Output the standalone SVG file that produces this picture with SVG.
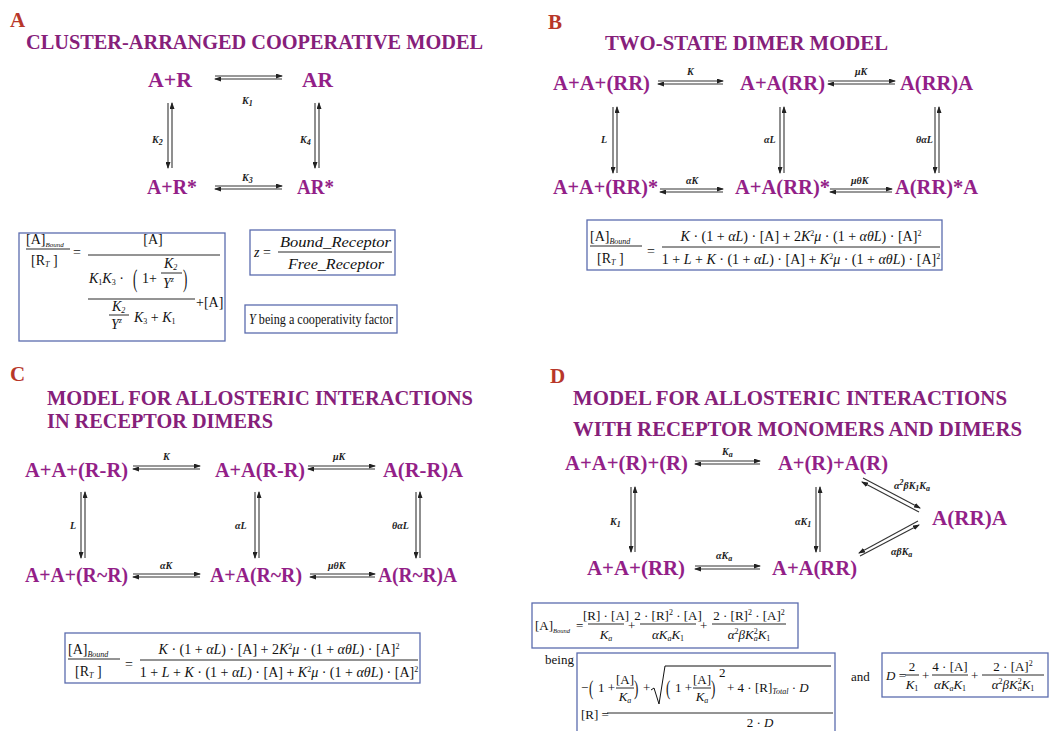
<svg xmlns="http://www.w3.org/2000/svg" width="1051" height="731" viewBox="0 0 1051 731">
<style>
.pl{font-family:"Liberation Serif",serif;font-weight:bold;font-size:21px;fill:#b8372a}
.tt{font-family:"Liberation Serif",serif;font-weight:bold;font-size:20px;fill:#86207a}
.sp{font-family:"Liberation Serif",serif;font-weight:bold;font-size:20px;fill:#931f88}
.k{font-family:"Liberation Serif",serif;font-weight:bold;font-style:italic;font-size:10px;fill:#222}
.eq{font-family:"Liberation Serif",serif;font-size:13px;fill:#111}
.e14{font-size:14px}
.i{font-style:italic}
.s{font-size:8px}
.box{fill:#fff;stroke:#5b6cae;stroke-width:1.3}
.fl{stroke:#111;stroke-width:0.9}
.rad{fill:none;stroke:#111;stroke-width:1}
.cn line{stroke:#333;stroke-width:1.1;marker-end:url(#ah)}
</style>
<defs>
<marker id="ah" markerUnits="userSpaceOnUse" markerWidth="7" markerHeight="5" refX="6" refY="2.5" orient="auto">
<path d="M0,0 L7,2.5 L0,5 z" fill="#222"/>
</marker>
<g id="bindEq">
<rect class="box" x="0" y="0" width="355" height="50"/>
<text class="eq e14" x="3" y="21">[A]<tspan class="s i" dy="3">Bound</tspan></text>
<line class="fl" x1="3" y1="26" x2="55" y2="26"/>
<text class="eq e14" x="10" y="43">[R<tspan class="s i" dy="2">T</tspan><tspan dy="-2"> ]</tspan></text>
<text class="eq e14" x="60" y="36">=</text>
<line class="fl" x1="75" y1="27" x2="353" y2="27"/>
<text class="eq e14" x="214" y="21" text-anchor="middle"><tspan class="i">K</tspan> · (1 + <tspan class="i">αL</tspan>) · [A] + 2<tspan class="i">K</tspan><tspan class="s" dy="-5">2</tspan><tspan class="i" dy="5">μ</tspan> · (1 + <tspan class="i">αθL</tspan>) · [A]<tspan class="s" dy="-5">2</tspan></text>
<text class="eq e14" x="214" y="44" text-anchor="middle">1 + <tspan class="i">L</tspan> + <tspan class="i">K</tspan> · (1 + <tspan class="i">αL</tspan>) · [A] + <tspan class="i">K</tspan><tspan class="s" dy="-5">2</tspan><tspan class="i" dy="5">μ</tspan> · (1 + <tspan class="i">αθL</tspan>) · [A]<tspan class="s" dy="-5">2</tspan></text>
</g>
</defs>
<rect width="1051" height="731" fill="#fff"/>

<!-- Panel A -->
<g id="panelA">
<text class="pl" x="10" y="27">A</text>
<text class="tt" x="26" y="49" textLength="457" lengthAdjust="spacingAndGlyphs">CLUSTER-ARRANGED COOPERATIVE MODEL</text>
</g>
<g id="A_AR1"><text class="sp" x="148" y="87" textLength="44" lengthAdjust="spacingAndGlyphs">A+R</text></g>
<g id="A_AR"><text class="sp" x="302" y="87" textLength="31" lengthAdjust="spacingAndGlyphs">AR</text></g>
<g id="A_ARs1"><text class="sp" x="147" y="194" textLength="50" lengthAdjust="spacingAndGlyphs">A+R*</text></g>
<g id="A_ARs"><text class="sp" x="297" y="194" textLength="37" lengthAdjust="spacingAndGlyphs">AR*</text></g>
<g id="A_connectors" class="cn">
<line x1="215" y1="76" x2="282" y2="76"/><line x1="282" y1="79" x2="215" y2="79"/>
<line x1="215" y1="186" x2="282" y2="186"/><line x1="282" y1="189" x2="215" y2="189"/>
<line x1="168" y1="103" x2="168" y2="168"/><line x1="172" y1="168" x2="172" y2="103"/>
<line x1="315" y1="103" x2="315" y2="168"/><line x1="319" y1="168" x2="319" y2="103"/>
<text class="k" x="242" y="104">K<tspan class="s" dy="2">1</tspan></text>
<text class="k" x="242" y="181">K<tspan class="s" dy="2">3</tspan></text>
<text class="k" x="152" y="143">K<tspan class="s" dy="2">2</tspan></text>
<text class="k" x="300" y="143">K<tspan class="s" dy="2">4</tspan></text>
</g>
<g id="A_eq">
<rect class="box" x="19" y="233" width="206" height="108"/>
<text class="eq e14" x="26" y="244">[A]<tspan class="i" font-size="7" dy="3">Bound</tspan></text>
<line class="fl" x1="26" y1="249" x2="70" y2="249"/>
<text class="eq e14" x="31" y="265">[R<tspan class="s i" dy="2">T</tspan><tspan dy="-2"> ]</tspan></text>
<text class="eq e14" x="73" y="257">=</text>
<text class="eq e14" x="153" y="244" text-anchor="middle">[A]</text>
<line class="fl" x1="88" y1="255" x2="220" y2="255"/>
<text class="eq e14" x="89" y="283"><tspan class="i">K</tspan><tspan class="s" dy="2">1</tspan><tspan class="i" dy="-2">K</tspan><tspan class="s" dy="2">3</tspan><tspan dy="-2"> ·</tspan></text>
<text class="eq" transform="translate(133,287) scale(1,1.9)" font-size="22">(</text>
<text class="eq e14" x="142" y="283">1+</text>
<text class="eq e14 i" x="164" y="268">K<tspan class="s" dy="2">2</tspan></text>
<line class="fl" x1="161" y1="273" x2="182" y2="273"/>
<text class="eq e14 i" x="163" y="288">Y<tspan class="s" dy="-6">z</tspan></text>
<text class="eq" transform="translate(183,287) scale(1,1.9)" font-size="22">)</text>
<line class="fl" x1="88" y1="299" x2="195" y2="299"/>
<text class="eq e14" x="196" y="307">+[A]</text>
<text class="eq e14 i" x="112" y="311">K<tspan class="s" dy="2">2</tspan></text>
<line class="fl" x1="109" y1="315" x2="129" y2="315"/>
<text class="eq e14 i" x="111" y="329">Y<tspan class="s" dy="-6">z</tspan></text>
<text class="eq e14" x="134" y="322"><tspan class="i">K</tspan><tspan class="s" dy="2">3</tspan><tspan dy="-2"> + </tspan><tspan class="i">K</tspan><tspan class="s" dy="2">1</tspan></text>
</g>
<g id="A_z">
<rect class="box" x="250" y="230" width="145" height="45"/>
<text class="eq e14" x="254" y="257"><tspan class="i">z</tspan> =</text>
<line class="fl" x1="278" y1="252" x2="392" y2="252"/>
<text class="eq e14 i" x="280" y="247" textLength="111" lengthAdjust="spacingAndGlyphs">Bound_Receptor</text>
<text class="eq e14 i" x="288" y="269" textLength="96" lengthAdjust="spacingAndGlyphs">Free_Receptor</text>
</g>
<g id="A_Y">
<rect class="box" x="245" y="305" width="152" height="28"/>
<text class="eq e14" x="249" y="324" textLength="144" lengthAdjust="spacingAndGlyphs"><tspan class="i">Y</tspan> being a cooperativity factor</text>
</g>

<!-- Panel B -->
<g id="panelB">
<text class="pl" x="548" y="29" fill="#c0282a">B</text>
<text class="tt" x="605" y="50" textLength="283" lengthAdjust="spacingAndGlyphs">TWO-STATE DIMER MODEL</text>
</g>
<g id="B_n1"><text class="sp" x="553" y="90" textLength="97" lengthAdjust="spacingAndGlyphs">A+A+(RR)</text></g>
<g id="B_n2"><text class="sp" x="740" y="90" textLength="85" lengthAdjust="spacingAndGlyphs">A+A(RR)</text></g>
<g id="B_n3"><text class="sp" x="900" y="90" textLength="73" lengthAdjust="spacingAndGlyphs">A(RR)A</text></g>
<g id="B_n4"><text class="sp" x="553" y="194" textLength="105" lengthAdjust="spacingAndGlyphs">A+A+(RR)*</text></g>
<g id="B_n5"><text class="sp" x="735" y="194" textLength="95" lengthAdjust="spacingAndGlyphs">A+A(RR)*</text></g>
<g id="B_n6"><text class="sp" x="895" y="194" textLength="83" lengthAdjust="spacingAndGlyphs">A(RR)*A</text></g>
<g id="B_connectors" class="cn">
<line x1="658" y1="81" x2="723" y2="81"/><line x1="723" y1="84" x2="658" y2="84"/>
<line x1="828" y1="81" x2="895" y2="81"/><line x1="895" y1="84" x2="828" y2="84"/>
<line x1="660" y1="189" x2="723" y2="189"/><line x1="723" y1="192" x2="660" y2="192"/>
<line x1="830" y1="189" x2="892" y2="189"/><line x1="892" y1="192" x2="830" y2="192"/>
<line x1="613" y1="107" x2="613" y2="173"/><line x1="617" y1="173" x2="617" y2="107"/>
<line x1="780" y1="107" x2="780" y2="173"/><line x1="784" y1="173" x2="784" y2="107"/>
<line x1="935" y1="107" x2="935" y2="173"/><line x1="939" y1="173" x2="939" y2="107"/>
<text class="k" x="687" y="75">K</text>
<text class="k" x="855" y="75">μK</text>
<text class="k" x="686" y="184">αK</text>
<text class="k" x="851" y="184">μθK</text>
<text class="k" x="601" y="143">L</text>
<text class="k" x="764" y="143">αL</text>
<text class="k" x="916" y="143">θαL</text>
</g>
<g id="B_eq"><use href="#bindEq" x="587" y="220"/></g>

<!-- Panel C -->
<g id="panelC">
<text class="pl" x="10" y="381">C</text>
<text class="tt" x="47" y="405" textLength="426" lengthAdjust="spacingAndGlyphs">MODEL FOR ALLOSTERIC INTERACTIONS</text>
<text class="tt" x="47" y="428" textLength="226" lengthAdjust="spacingAndGlyphs">IN RECEPTOR DIMERS</text>
</g>
<g id="C_n1"><text class="sp" x="25" y="477" textLength="103" lengthAdjust="spacingAndGlyphs">A+A+(R-R)</text></g>
<g id="C_n2"><text class="sp" x="215" y="477" textLength="90" lengthAdjust="spacingAndGlyphs">A+A(R-R)</text></g>
<g id="C_n3"><text class="sp" x="383" y="477" textLength="80" lengthAdjust="spacingAndGlyphs">A(R-R)A</text></g>
<g id="C_n4"><text class="sp" x="25" y="582" textLength="103" lengthAdjust="spacingAndGlyphs">A+A+(R~R)</text></g>
<g id="C_n5"><text class="sp" x="210" y="582" textLength="92" lengthAdjust="spacingAndGlyphs">A+A(R~R)</text></g>
<g id="C_n6"><text class="sp" x="378" y="582" textLength="79" lengthAdjust="spacingAndGlyphs">A(R~R)A</text></g>
<g id="C_connectors" class="cn">
<line x1="133" y1="466" x2="200" y2="466"/><line x1="200" y1="469" x2="133" y2="469"/>
<line x1="308" y1="466" x2="375" y2="466"/><line x1="375" y1="469" x2="308" y2="469"/>
<line x1="133" y1="574" x2="200" y2="574"/><line x1="200" y1="577" x2="133" y2="577"/>
<line x1="310" y1="574" x2="375" y2="574"/><line x1="375" y1="577" x2="310" y2="577"/>
<line x1="81" y1="492" x2="81" y2="558"/><line x1="85" y1="558" x2="85" y2="492"/>
<line x1="255" y1="492" x2="255" y2="558"/><line x1="259" y1="558" x2="259" y2="492"/>
<line x1="416" y1="492" x2="416" y2="558"/><line x1="420" y1="558" x2="420" y2="492"/>
<text class="k" x="163" y="460">K</text>
<text class="k" x="333" y="460">μK</text>
<text class="k" x="160" y="569">αK</text>
<text class="k" x="328" y="569">μθK</text>
<text class="k" x="70" y="529">L</text>
<text class="k" x="235" y="529">αL</text>
<text class="k" x="392" y="529">θαL</text>
</g>
<g id="C_eq"><use href="#bindEq" x="65" y="633"/></g>

<!-- Panel D -->
<g id="panelD">
<text class="pl" x="550" y="383" fill="#c0282a">D</text>
<text class="tt" x="573" y="405" textLength="434" lengthAdjust="spacingAndGlyphs">MODEL FOR ALLOSTERIC INTERACTIONS</text>
<text class="tt" x="573" y="436" textLength="449" lengthAdjust="spacingAndGlyphs">WITH RECEPTOR MONOMERS AND DIMERS</text>
</g>
<g id="D_n1"><text class="sp" x="565" y="470" textLength="123" lengthAdjust="spacingAndGlyphs">A+A+(R)+(R)</text></g>
<g id="D_n2"><text class="sp" x="778" y="470" textLength="110" lengthAdjust="spacingAndGlyphs">A+(R)+A(R)</text></g>
<g id="D_n3"><text class="sp" x="587" y="575" textLength="98" lengthAdjust="spacingAndGlyphs">A+A+(RR)</text></g>
<g id="D_n4"><text class="sp" x="772" y="575" textLength="85" lengthAdjust="spacingAndGlyphs">A+A(RR)</text></g>
<g id="D_n5"><text class="sp" x="932" y="525" textLength="75" lengthAdjust="spacingAndGlyphs">A(RR)A</text></g>
<g id="D_connectors" class="cn">
<line x1="695" y1="461" x2="760" y2="461"/><line x1="760" y1="464" x2="695" y2="464"/>
<line x1="695" y1="566" x2="760" y2="566"/><line x1="760" y1="569" x2="695" y2="569"/>
<line x1="631" y1="487" x2="631" y2="552"/><line x1="635" y1="552" x2="635" y2="487"/>
<line x1="816" y1="487" x2="816" y2="552"/><line x1="820" y1="552" x2="820" y2="487"/>
<line x1="863" y1="478" x2="920" y2="508"/><line x1="919" y1="512" x2="862" y2="482"/>
<line x1="918" y1="521" x2="859" y2="553"/><line x1="860" y1="556" x2="919" y2="525"/>
<text class="k" x="722" y="455">K<tspan class="s" dy="2">a</tspan></text>
<text class="k" x="716" y="559">αK<tspan class="s" dy="2">a</tspan></text>
<text class="k" x="610" y="525">K<tspan class="s" dy="2">1</tspan></text>
<text class="k" x="795" y="525">αK<tspan class="s" dy="2">1</tspan></text>
<text class="k" x="894" y="489">α<tspan class="s" dy="-4">2</tspan><tspan dy="4">βK</tspan><tspan class="s" dy="2">1</tspan><tspan dy="-2">K</tspan><tspan class="s" dy="2">a</tspan></text>
<text class="k" x="891" y="555">αβK<tspan class="s" dy="2">a</tspan></text>
</g>
<g id="D_eq1">
<rect class="box" x="532" y="603" width="266" height="45"/>
<text class="eq" x="535" y="630">[A]<tspan class="i" font-size="6.5" dy="3">Bound</tspan></text>
<text class="eq" x="576" y="630">=</text>
<text class="eq" x="606" y="620" text-anchor="middle">[R] · [A]</text>
<line class="fl" x1="588" y1="624" x2="624" y2="624"/>
<text class="eq" x="606" y="639" text-anchor="middle"><tspan class="i">K</tspan><tspan class="s i" dy="2">a</tspan></text>
<text class="eq" x="628" y="630">+</text>
<text class="eq" x="668" y="620" text-anchor="middle">2 · [R]<tspan class="s" dy="-5">2</tspan><tspan dy="5"> · [A]</tspan></text>
<line class="fl" x1="640" y1="624" x2="696" y2="624"/>
<text class="eq" x="668" y="639" text-anchor="middle"><tspan class="i">αK</tspan><tspan class="s i" dy="2">a</tspan><tspan class="i" dy="-2">K</tspan><tspan class="s" dy="2">1</tspan></text>
<text class="eq" x="700" y="630">+</text>
<text class="eq" x="749" y="620" text-anchor="middle">2 · [R]<tspan class="s" dy="-5">2</tspan><tspan dy="5"> · [A]</tspan><tspan class="s" dy="-5">2</tspan></text>
<line class="fl" x1="712" y1="624" x2="786" y2="624"/>
<text class="eq" x="749" y="639" text-anchor="middle"><tspan class="i">α</tspan><tspan class="s" dy="-5">2</tspan><tspan class="i" dy="5">βK</tspan><tspan class="s" dy="-5">2</tspan><tspan class="s i" dx="-4" dy="7">a</tspan><tspan class="i" dy="-2">K</tspan><tspan class="s" dy="2">1</tspan></text>
</g>
<g id="D_being"><text class="eq" x="545" y="664" font-size="12">being</text></g>
<g id="D_eq2">
<rect class="box" x="577" y="653" width="258" height="90"/>
<text class="eq" x="581" y="692">−</text>
<text class="eq" transform="translate(589,695) scale(1,1.6)" font-size="22">(</text>
<text class="eq" x="598" y="692">1 +</text>
<text class="eq" x="625" y="684" text-anchor="middle">[A]</text>
<line class="fl" x1="616" y1="688" x2="634" y2="688"/>
<text class="eq" x="625" y="701" text-anchor="middle"><tspan class="i">K</tspan><tspan class="s i" dy="2">a</tspan></text>
<text class="eq" transform="translate(634,695) scale(1,1.6)" font-size="22">)</text>
<text class="eq" x="643" y="692">+</text>
<polyline class="rad" points="651,690 654,688 659,704 665,666 831,666"/>
<text class="eq" transform="translate(666,695) scale(1,1.6)" font-size="22">(</text>
<text class="eq" x="675" y="692">1 +</text>
<text class="eq" x="702" y="684" text-anchor="middle">[A]</text>
<line class="fl" x1="693" y1="688" x2="711" y2="688"/>
<text class="eq" x="702" y="701" text-anchor="middle"><tspan class="i">K</tspan><tspan class="s i" dy="2">a</tspan></text>
<text class="eq" transform="translate(711,695) scale(1,1.6)" font-size="22">)</text>
<text class="eq" x="719" y="677" font-size="9">2</text>
<text class="eq" x="727" y="692">+ 4 · [R]<tspan class="s i" font-size="7" dy="2">Total</tspan><tspan dy="-2"> · </tspan><tspan class="i">D</tspan></text>
<line class="fl" x1="607" y1="713" x2="833" y2="713"/>
<text class="eq" x="581" y="719">[R] =</text>
<text class="eq" x="760" y="727" text-anchor="middle">2 · <tspan class="i">D</tspan></text>
</g>
<g id="D_and"><text class="eq" x="851" y="681" font-size="12">and</text></g>
<g id="D_eq3">
<rect class="box" x="882" y="653" width="166" height="44"/>
<text class="eq" x="886" y="680"><tspan class="i">D</tspan> =</text>
<text class="eq" x="912" y="671" text-anchor="middle">2</text>
<line class="fl" x1="905" y1="675" x2="919" y2="675"/>
<text class="eq" x="912" y="689" text-anchor="middle"><tspan class="i">K</tspan><tspan class="s" dy="2">1</tspan></text>
<text class="eq" x="922" y="680">+</text>
<text class="eq" x="950" y="671" text-anchor="middle">4 · [A]</text>
<line class="fl" x1="932" y1="675" x2="968" y2="675"/>
<text class="eq" x="950" y="689" text-anchor="middle"><tspan class="i">αK</tspan><tspan class="s i" dy="2">a</tspan><tspan class="i" dy="-2">K</tspan><tspan class="s" dy="2">1</tspan></text>
<text class="eq" x="971" y="680">+</text>
<text class="eq" x="1013" y="671" text-anchor="middle">2 · [A]<tspan class="s" dy="-5">2</tspan></text>
<line class="fl" x1="982" y1="675" x2="1044" y2="675"/>
<text class="eq" x="1013" y="689" text-anchor="middle"><tspan class="i">α</tspan><tspan class="s" dy="-5">2</tspan><tspan class="i" dy="5">βK</tspan><tspan class="s" dy="-5">2</tspan><tspan class="s i" dx="-4" dy="7">a</tspan><tspan class="i" dy="-2">K</tspan><tspan class="s" dy="2">1</tspan></text>
</g>
</svg>
